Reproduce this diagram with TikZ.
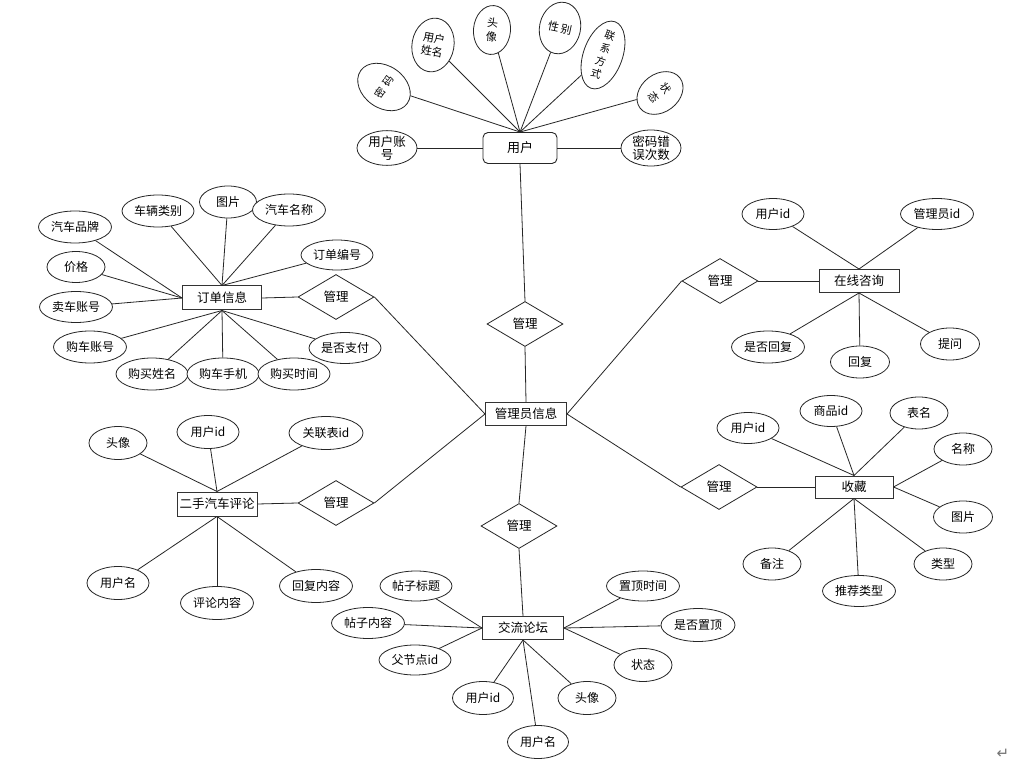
\documentclass[tikz,border=0pt]{standalone}
\usepackage{fontspec}
\setmainfont{Noto Sans CJK SC}
\newfontfamily\symfont{DejaVu Sans}
\usetikzlibrary{shapes.geometric}
\begin{document}
\begin{tikzpicture}[x=1pt,y=-1pt,
  attr/.style={ellipse,draw=black!85,line width=0.8pt,fill=white,inner sep=0pt,font=\fontsize{12}{14}\selectfont},
  ent/.style={rectangle,draw=black!80,line width=1pt,fill=white,inner sep=0pt,minimum width=80pt,minimum height=23pt,font=\fontsize{12.5}{14}\selectfont},
  rel/.style={diamond,draw=black!85,line width=0.8pt,fill=white,inner sep=0pt,aspect=1.7,minimum width=76pt,minimum height=45pt,font=\fontsize{12.5}{14}\selectfont},
  lk/.style={draw=black!85,line width=0.8pt}]
\fill[white] (0,0) rectangle (1028,767);
\useasboundingbox (0,0) rectangle (1028,767);

% ---------- user ----------
\node[rectangle,rounded corners=5pt,draw=black!85,line width=0.9pt,fill=white,minimum width=74pt,minimum height=31pt,font=\fontsize{13}{15}\selectfont] (user) at (520,148) {用户};
\node[attr,minimum width=60pt,minimum height=33pt,align=center,font=\fontsize{12.5}{13}\selectfont] (zh) at (387,148) {用户账\\号};
\node[attr,minimum width=60pt,minimum height=36pt,align=center,font=\fontsize{12.5}{13}\selectfont] (mmcw) at (651,148) {密码错\\误次数};
\node[attr,minimum width=42pt,minimum height=57pt,rotate=55,font=\fontsize{10.5}{12}\selectfont] (mm) at (384,87) {密\hspace{4pt}码};
\node[attr,minimum width=42pt,minimum height=54pt,rotate=-10,align=center,font=\fontsize{11}{13}\selectfont] (xm) at (433,45) {用户\\姓名};
\node[attr,minimum width=37pt,minimum height=49pt,rotate=-5,align=center,font=\fontsize{11}{14}\selectfont] (tx) at (492,30) {头\\像};
\node[attr,minimum width=41pt,minimum height=52pt,rotate=-12,font=\fontsize{11}{12}\selectfont] (xb) at (560,28) {性\hspace{2pt}别};
\node[attr,minimum width=39pt,minimum height=51pt,rotate=-20,align=center,font=\fontsize{10.5}{13.5}\selectfont] (lxfs) at (603,55) {联\\系\\方\\式};
\node[attr,minimum width=38pt,minimum height=50pt,rotate=-53,align=center,font=\fontsize{10.5}{15}\selectfont] (zt) at (660,93) {状\\态};
\foreach \a in {mm,xm,tx,xb,lxfs,zt} \draw[lk] (user.north) -- (\a);
\draw[lk] (user.west) -- (zh);
\draw[lk] (user.east) -- (mmcw);

% ---------- admin chain ----------
\node[rel] (gl1) at (525,324) {管理};
\node[ent,minimum width=81pt] (admin) at (526,414) {管理员信息};
\node[rel] (gl2) at (519,526) {管理};
\node[ent,minimum width=81pt] (lt) at (523,628) {交流论坛};
\draw[lk] (user.south) -- (gl1.north);
\draw[lk] (gl1.south) -- (admin.north);
\draw[lk] (admin.south) -- (gl2.north);
\draw[lk] (gl2.south) -- (lt.north);

% ---------- forum ----------
\node[attr,minimum width=72pt,minimum height=30pt] (ltbt) at (416,586) {帖子标题};
\node[attr,minimum width=73pt,minimum height=31pt] (ltnr) at (368,623) {帖子内容};
\node[attr,minimum width=72pt,minimum height=30pt] (fjd) at (415,660) {父节点id};
\node[attr,minimum width=61pt,minimum height=33pt] (lyid) at (483,698) {用户id};
\node[attr,minimum width=61pt,minimum height=33pt] (lyname) at (538,742) {用户名};
\node[attr,minimum width=58pt,minimum height=33pt] (ltx) at (587,698) {头像};
\node[attr,minimum width=58pt,minimum height=33pt] (lzt) at (643,665) {状态};
\node[attr,minimum width=74pt,minimum height=33pt] (sfzd) at (698,625) {是否置顶};
\node[attr,minimum width=73pt,minimum height=30pt] (zdsj) at (643,586) {置顶时间};
\foreach \a in {ltbt,ltnr,fjd} \draw[lk] (lt.west) -- (\a);
\foreach \a in {zdsj,sfzd,lzt} \draw[lk] (lt.east) -- (\a);
\foreach \a in {lyid,lyname,ltx} \draw[lk] (lt.south) -- (\a);

% ---------- comment ----------
\node[ent,minimum height=24pt] (pl) at (217,504) {二手汽车评论};
\node[rel] (gl3) at (336,503) {管理};
\node[attr,minimum width=58pt,minimum height=33pt] (ptx) at (118,443) {头像};
\node[attr,minimum width=62pt,minimum height=33pt] (pid) at (208,432) {用户id};
\node[attr,minimum width=74pt,minimum height=33pt] (glb) at (326,433) {关联表id};
\node[attr,minimum width=62pt,minimum height=33pt] (pname) at (118,583) {用户名};
\node[attr,minimum width=73pt,minimum height=33pt] (plnr) at (217,603) {评论内容};
\node[attr,minimum width=73pt,minimum height=33pt] (hfnr) at (316,586) {回复内容};
\foreach \a in {ptx,pid,glb} \draw[lk] (pl.north) -- (\a);
\foreach \a in {pname,plnr,hfnr} \draw[lk] (pl.south) -- (\a);
\draw[lk] (pl.east) -- (gl3.west);
\draw[lk] (gl3.east) -- (admin.west);

% ---------- order ----------
\node[ent,minimum width=79pt,minimum height=24pt] (dd) at (222,298) {订单信息};
\node[rel] (gl4) at (336,297) {管理};
\node[attr,minimum width=73pt,minimum height=32pt] (qcpp) at (75,227) {汽车品牌};
\node[attr,minimum width=72pt,minimum height=32pt] (cllb) at (158,211) {车辆类别};
\node[attr,minimum width=57pt,minimum height=32pt] (tp) at (228,202) {图片};
\node[attr,minimum width=73pt,minimum height=32pt] (qcmc) at (289,210) {汽车名称};
\node[attr,minimum width=72pt,minimum height=30pt] (ddbh) at (337,255) {订单编号};
\node[attr,minimum width=58pt,minimum height=31pt] (jg) at (76,267) {价格};
\node[attr,minimum width=73pt,minimum height=31pt] (mczh) at (76,307) {卖车账号};
\node[attr,minimum width=73pt,minimum height=32pt] (gczh) at (90,347) {购车账号};
\node[attr,minimum width=72pt,minimum height=32pt] (gmxm) at (152,374) {购买姓名};
\node[attr,minimum width=72pt,minimum height=32pt] (gcsj) at (223,374) {购车手机};
\node[attr,minimum width=72pt,minimum height=32pt] (gmsj) at (294,374) {购买时间};
\node[attr,minimum width=72pt,minimum height=31pt] (sfzf) at (345,348) {是否支付};
\foreach \a in {qcpp,jg,mczh} \draw[lk] (dd.west) -- (\a);
\foreach \a in {cllb,tp,qcmc,ddbh} \draw[lk] (dd.north) -- (\a);
\foreach \a in {gczh,gmxm,gcsj,gmsj,sfzf} \draw[lk] (dd.south) -- (\a);
\draw[lk] (dd.east) -- (gl4.west);
\draw[lk] (gl4.east) -- (admin.west);

% ---------- online consult ----------
\node[ent] (zx) at (859,281) {在线咨询};
\node[rel] (gl5) at (720,281) {管理};
\node[attr,minimum width=62pt,minimum height=31pt] (zuid) at (773,214) {用户id};
\node[attr,minimum width=73pt,minimum height=31pt] (glyid) at (937,214) {管理员id};
\node[attr,minimum width=73pt,minimum height=32pt] (sfhf) at (768,347) {是否回复};
\node[attr,minimum width=59pt,minimum height=32pt] (hf) at (860,362) {回复};
\node[attr,minimum width=59pt,minimum height=32pt] (tw) at (950,344) {提问};
\foreach \a in {zuid,glyid} \draw[lk] (zx.north) -- (\a);
\foreach \a in {sfhf,hf,tw} \draw[lk] (zx.south) -- (\a);
\draw[lk] (admin.east) -- (gl5.west);
\draw[lk] (gl5.east) -- (zx.west);

% ---------- collection ----------
\node[ent,minimum width=78pt,minimum height=22pt] (sc) at (854,487) {收藏};
\node[rel] (gl6) at (719,487) {管理};
\node[attr,minimum width=62pt,minimum height=31pt] (suid) at (748,428) {用户id};
\node[attr,minimum width=62pt,minimum height=31pt] (spid) at (831,411) {商品id};
\node[attr,minimum width=58pt,minimum height=32pt] (bm) at (919,413) {表名};
\node[attr,minimum width=58pt,minimum height=32pt] (mc) at (963,449) {名称};
\node[attr,minimum width=59pt,minimum height=32pt] (stp) at (963,517) {图片};
\node[attr,minimum width=58pt,minimum height=32pt] (lx2) at (943,564) {类型};
\node[attr,minimum width=73pt,minimum height=31pt] (tjlx) at (859,591) {推荐类型};
\node[attr,minimum width=58pt,minimum height=32pt] (bz) at (772,564) {备注};
\foreach \a in {suid,spid,bm} \draw[lk] (sc.north) -- (\a);
\foreach \a in {mc,stp} \draw[lk] (sc.east) -- (\a);
\foreach \a in {lx2,tjlx,bz} \draw[lk] (sc.south) -- (\a);
\draw[lk] (admin.east) -- (gl6.west);
\draw[lk] (gl6.east) -- (sc.west);

% paragraph mark
\node[text=black!55,font=\symfont\fontsize{15}{15}\selectfont,inner sep=0pt] (pmark) at (1003,754) {↵};
\end{tikzpicture}
\end{document}
